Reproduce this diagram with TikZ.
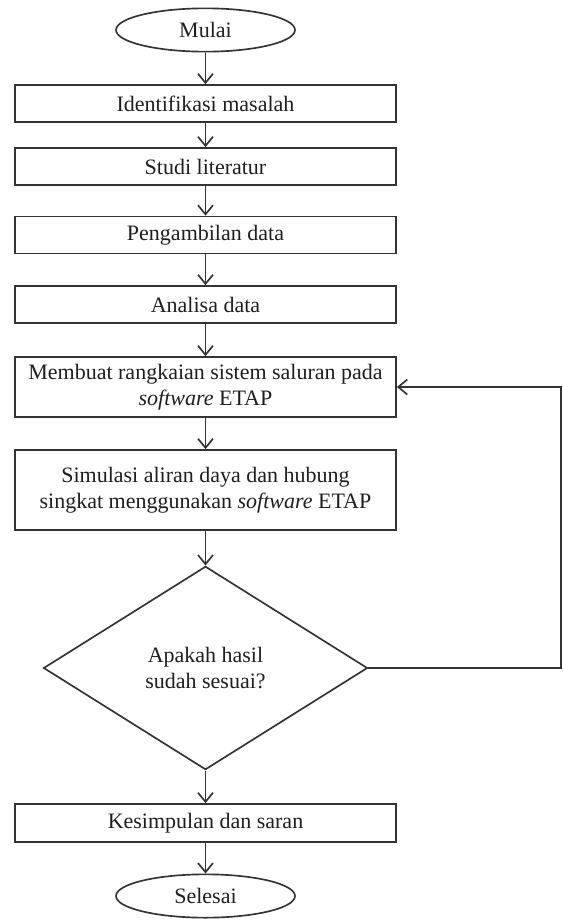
\documentclass[tikz,border=0pt]{standalone}
\usepackage{fontspec}
\setmainfont{Liberation Serif}
\usetikzlibrary{shapes.geometric, arrows.meta}

\definecolor{garis}{HTML}{333333}
\definecolor{teks}{HTML}{1E1E1E}

\tikzset{
	kotak/.style={draw=garis, line width=1pt, rectangle, minimum width=228.6pt, minimum height=22.2pt, inner sep=2pt, align=center, text=teks, font=\fontsize{13.2}{15.6}\selectfont},
	mulaiselesai/.style={draw=garis, line width=1pt, ellipse, minimum width=107.4pt, minimum height=26pt, inner sep=0pt, text=teks, font=\fontsize{13.2}{15.6}\selectfont},
	keputusan/.style={draw=garis, line width=1pt, diamond, minimum width=194.4pt, minimum height=122pt, inner sep=0pt, align=center, text=teks, font=\fontsize{13.2}{15.6}\selectfont},
	panah/.style={draw=garis, line width=1pt, -{Straight Barb[length=5.5pt, width=9pt, line width=1pt]}}
}

\begin{document}
\begin{tikzpicture}[x=0.6pt, y=-0.6pt]
	\useasboundingbox (0,0) rectangle (563,922);

	%% Langkah-langkah
	\node[mulaiselesai] (mulai) at (205.5,30) {Mulai};
	\node[kotak] (identifikasi) at (205.5,103.5) {Identifikasi masalah};
	\node[kotak] (studi) at (205.5,166.5) {Studi literatur};
	\node[kotak] (ambil) at (205.5,235) {Pengambilan data};
	\node[kotak] (analisa) at (205.5,304.5) {Analisa data};
	\node[kotak, minimum height=36pt] (membuat) at (205.5,387) {Membuat rangkaian sistem saluran pada\\ \textit{software} ETAP};
	\node[kotak, minimum height=48pt] (simulasi) at (205.5,490) {Simulasi aliran daya dan hubung\\ singkat menggunakan \textit{software} ETAP};
	\node[keputusan] (cek) at (205.5,668) {Apakah hasil\\ sudah sesuai?};
	\node[kotak, minimum height=22.8pt] (kesimpulan) at (205.5,823) {Kesimpulan dan saran};
	\node[mulaiselesai] (selesai) at (205.5,896) {Selesai};
	%%%%%%%%%%%%%%%%

	%% Panah
	\draw[panah] (mulai) -- (identifikasi);
	\draw[panah] (identifikasi) -- (studi);
	\draw[panah] (studi) -- (ambil);
	\draw[panah] (ambil) -- (analisa);
	\draw[panah] (analisa) -- (membuat);
	\draw[panah] (membuat) -- (simulasi);
	\draw[panah] (simulasi) -- (cek);
	\draw[panah] (cek) -- (kesimpulan);
	\draw[panah] (kesimpulan) -- (selesai);

	%% Kembali jika belum sesuai
	\coordinate (kanan) at (561,668);
	\draw[panah] (cek.east) -- (kanan) |- (membuat.east);
\end{tikzpicture}
\end{document}
